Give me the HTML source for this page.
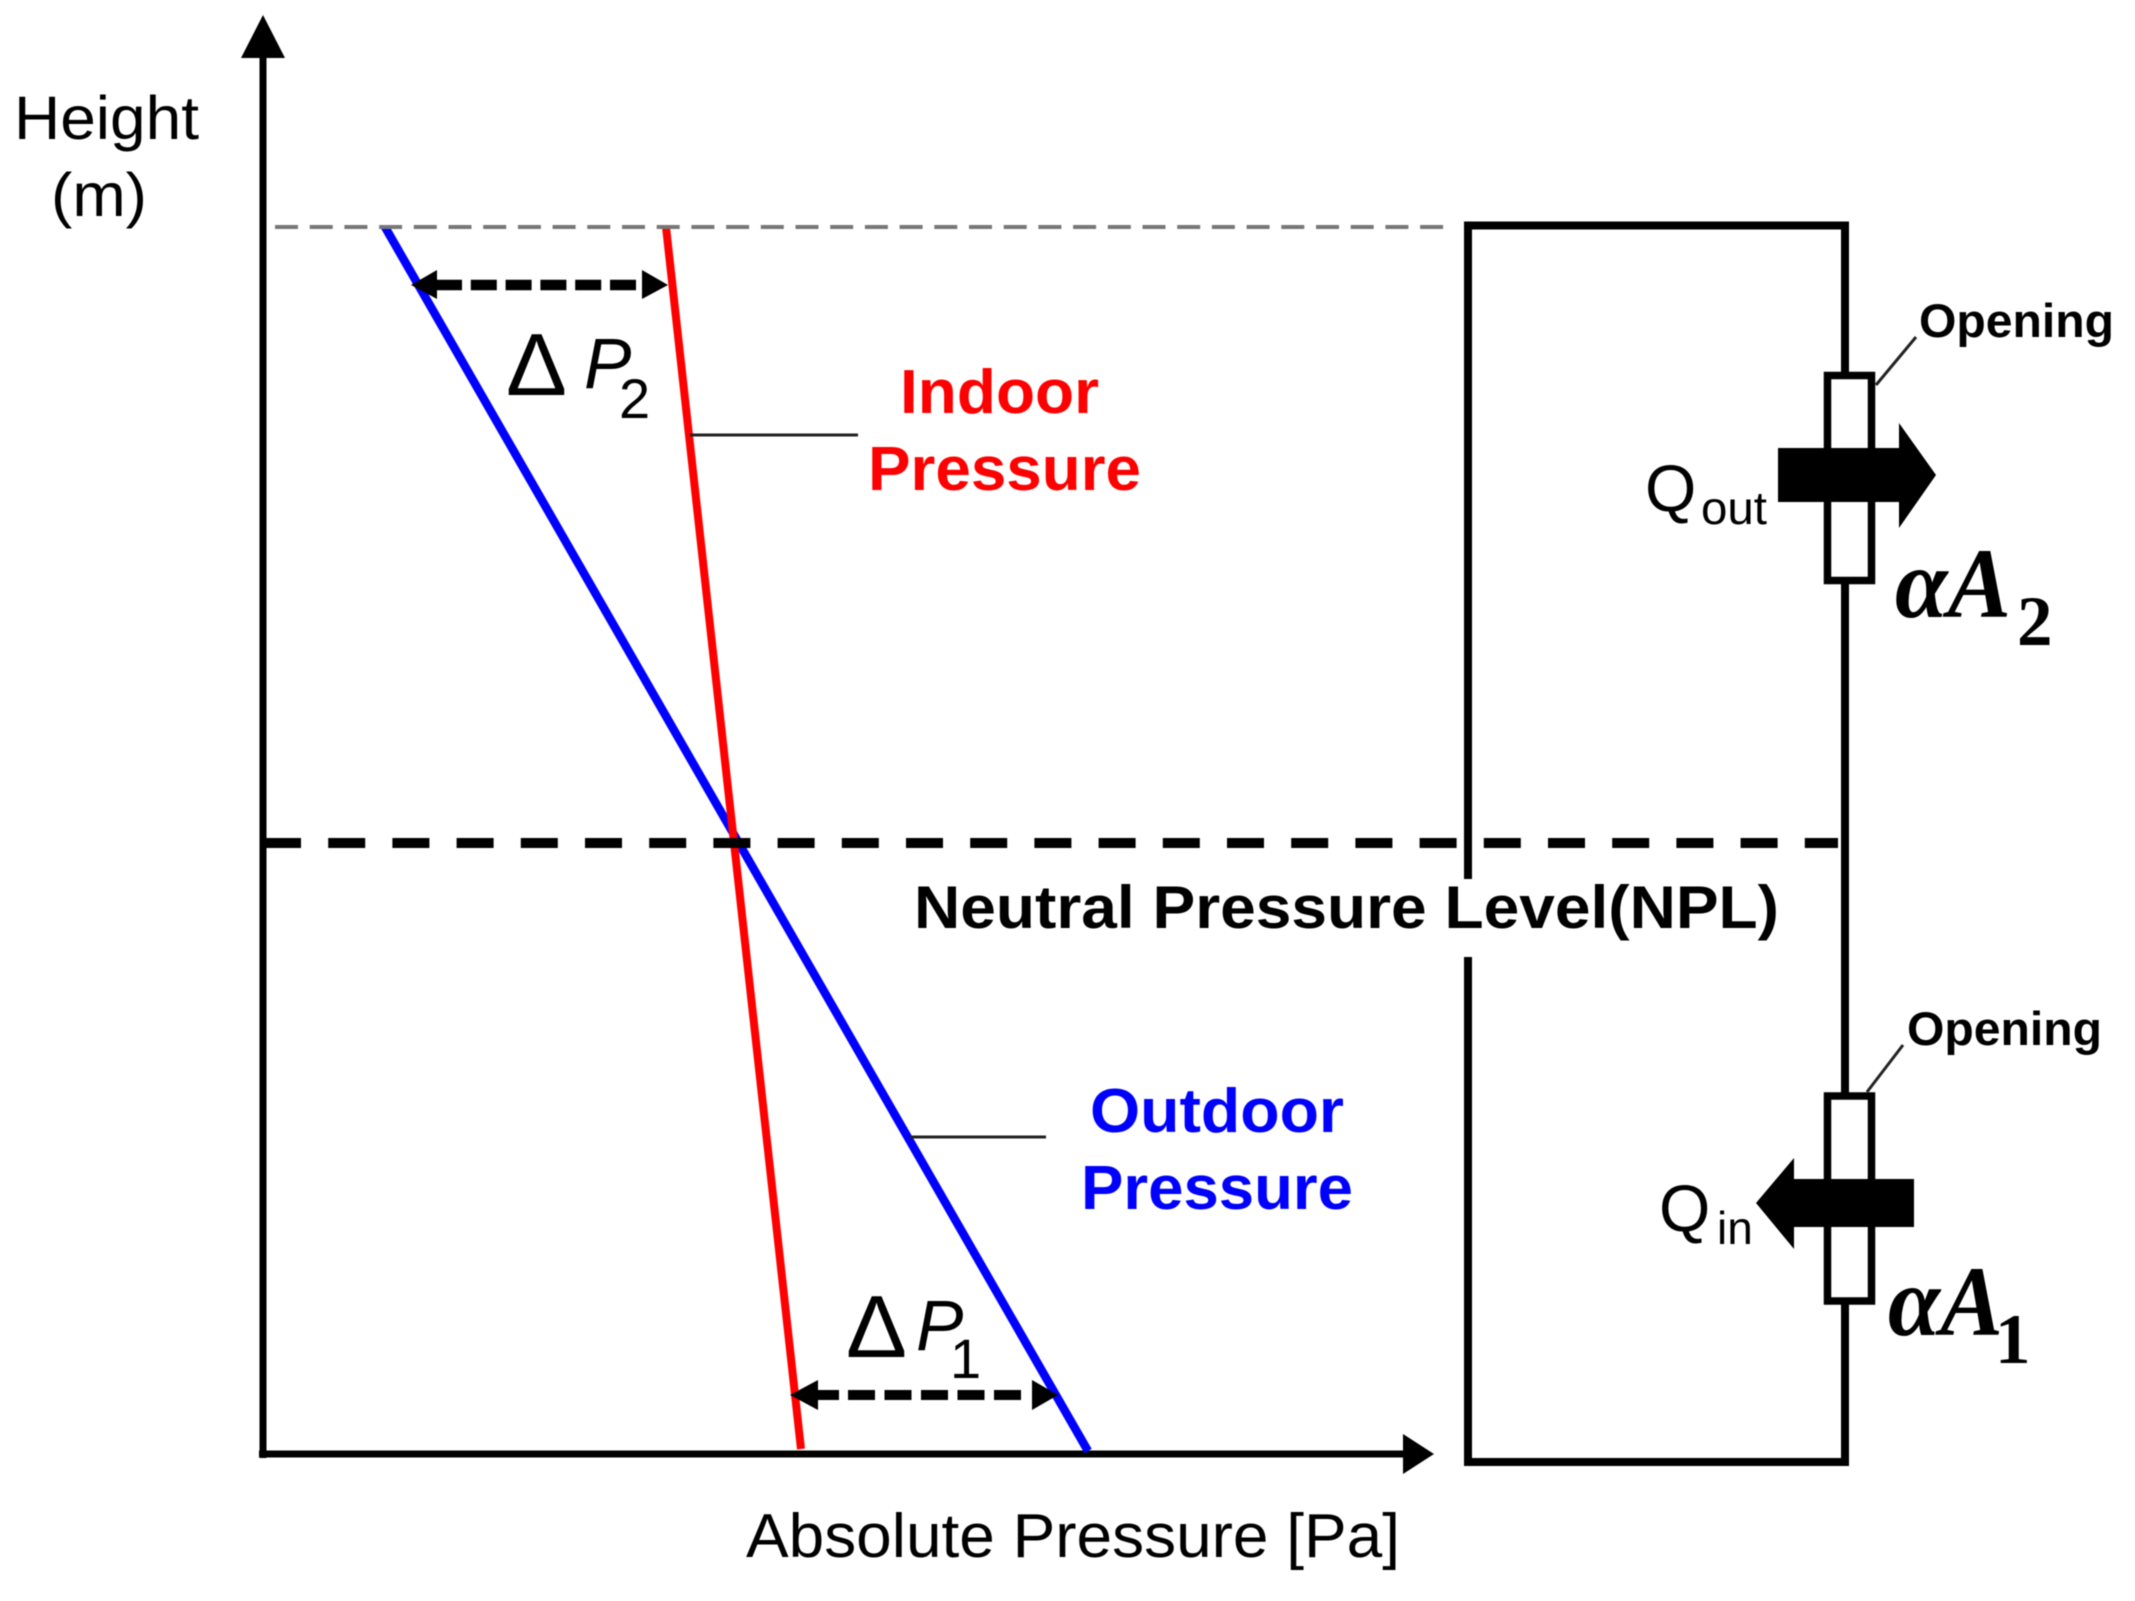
<!DOCTYPE html>
<html><head><meta charset="utf-8"><style>
html,body{margin:0;padding:0;background:#fff;width:2135px;height:1601px;overflow:hidden}
svg{display:block;filter:blur(0.6px)}
text{font-family:"Liberation Sans",sans-serif;fill:#000}
.b{font-weight:bold}
.s{font-family:"Liberation Serif",serif;font-weight:bold;font-style:italic}
.d{font-family:"Liberation Serif",serif;font-weight:bold}
</style></head><body>
<svg width="2135" height="1601" viewBox="0 0 2135 1601" xmlns="http://www.w3.org/2000/svg">
<rect width="2135" height="1601" fill="#fff"/>

<!-- axes -->
<line x1="263" y1="50" x2="263" y2="1458" stroke="#000" stroke-width="7"/>
<polygon points="263,15 285,58 241,58" fill="#000"/>
<line x1="259" y1="1454" x2="1410" y2="1454" stroke="#000" stroke-width="7"/>
<polygon points="1434,1454 1403,1474 1403,1434" fill="#000"/>

<!-- pressure lines -->
<line x1="385" y1="227" x2="1088" y2="1451" stroke="#0000ff" stroke-width="8.5"/>
<line x1="666" y1="227" x2="801" y2="1449" stroke="#ff0000" stroke-width="8"/>

<!-- top grey dashed line -->
<line x1="275" y1="227" x2="1445" y2="227" stroke="#777" stroke-width="4" stroke-dasharray="23 11.7"/>

<!-- building -->
<polyline points="1468,879 1468,225.5 1845,225.5 1845,1462 1468,1462 1468,957" fill="none" stroke="#000" stroke-width="8"/>

<!-- NPL -->
<line x1="264" y1="843" x2="1838" y2="843" stroke="#000" stroke-width="10" stroke-dasharray="37 27.2"/>
<text x="914" y="928" class="b" font-size="60" textLength="865" lengthAdjust="spacingAndGlyphs">Neutral Pressure Level(NPL)</text>

<!-- delta P2 -->
<line x1="436" y1="285" x2="640" y2="285" stroke="#000" stroke-width="10.5" stroke-dasharray="26 8.8"/>
<polygon points="411,285 437,270 437,299" fill="#000"/>
<polygon points="668,285 642,270 642,299" fill="#000"/>
<text x="506" y="395" font-size="88" textLength="61" lengthAdjust="spacingAndGlyphs">Δ</text>
<text x="584" y="388" font-size="71" font-style="italic">P</text>
<text x="619" y="418" font-size="56">2</text>

<!-- delta P1 -->
<line x1="818" y1="1395" x2="1024" y2="1395" stroke="#000" stroke-width="10" stroke-dasharray="21 9 27 9.5 27 9.5 27 9.5 27 9.5 27 9.5"/>
<polygon points="790,1395 818,1380 818,1410" fill="#000"/>
<polygon points="1058,1395 1032,1380 1032,1410" fill="#000"/>
<text x="846" y="1357" font-size="88" textLength="61" lengthAdjust="spacingAndGlyphs">Δ</text>
<text x="916" y="1350" font-size="71" font-style="italic">P</text>
<text x="950" y="1378" font-size="56">1</text>

<!-- leaders -->
<line x1="690" y1="435" x2="858" y2="435" stroke="#222" stroke-width="3"/>
<line x1="910" y1="1137" x2="1046" y2="1137" stroke="#222" stroke-width="3"/>

<!-- axis labels -->
<text x="14" y="139" font-size="61" textLength="185" lengthAdjust="spacingAndGlyphs">Height</text>
<text x="51" y="216" font-size="61" textLength="96" lengthAdjust="spacingAndGlyphs">(m)</text>
<text x="746" y="1557" font-size="62" textLength="654" lengthAdjust="spacingAndGlyphs">Absolute Pressure [Pa]</text>

<!-- coloured labels -->
<text x="900" y="413" class="b" style="fill:#ff0000" font-size="62" textLength="199" lengthAdjust="spacingAndGlyphs">Indoor</text>
<text x="868" y="490" class="b" style="fill:#ff0000" font-size="62" textLength="273" lengthAdjust="spacingAndGlyphs">Pressure</text>
<text x="1090" y="1132" class="b" style="fill:#0000ff" font-size="62" textLength="254" lengthAdjust="spacingAndGlyphs">Outdoor</text>
<text x="1081" y="1209" class="b" style="fill:#0000ff" font-size="62" textLength="272" lengthAdjust="spacingAndGlyphs">Pressure</text>

<!-- upper opening -->
<rect x="1827.5" y="375.5" width="44" height="205" fill="#fff" stroke="#000" stroke-width="7.5"/>
<polygon points="1778,448 1899,448 1899,423 1936,475 1899,528 1899,502 1778,502" fill="#000"/>
<line x1="1916" y1="337" x2="1876" y2="385" stroke="#222" stroke-width="3"/>
<text x="1919" y="337" class="b" font-size="47" textLength="195" lengthAdjust="spacingAndGlyphs">Opening</text>
<text x="1645" y="511" font-size="66">Q</text>
<text x="1701" y="524" font-size="46" textLength="66" lengthAdjust="spacingAndGlyphs">out</text>
<text x="1895" y="617" class="s" font-size="100" textLength="116" lengthAdjust="spacingAndGlyphs">αA</text>
<text x="2017" y="645" class="d" font-size="71">2</text>

<!-- lower opening -->
<rect x="1827.5" y="1096" width="44" height="205" fill="#fff" stroke="#000" stroke-width="7.5"/>
<polygon points="1914,1179 1794,1179 1794,1158 1756,1203 1794,1249 1794,1227 1914,1227" fill="#000"/>
<line x1="1903" y1="1045" x2="1867" y2="1092" stroke="#222" stroke-width="3"/>
<text x="1907" y="1045" class="b" font-size="47" textLength="195" lengthAdjust="spacingAndGlyphs">Opening</text>
<text x="1659" y="1231" font-size="66">Q</text>
<text x="1717" y="1244" font-size="46">in</text>
<text x="1888" y="1335" class="s" font-size="100" textLength="115" lengthAdjust="spacingAndGlyphs">αA</text>
<text x="1995" y="1363" class="d" font-size="71">1</text>
</svg>
</body></html>
